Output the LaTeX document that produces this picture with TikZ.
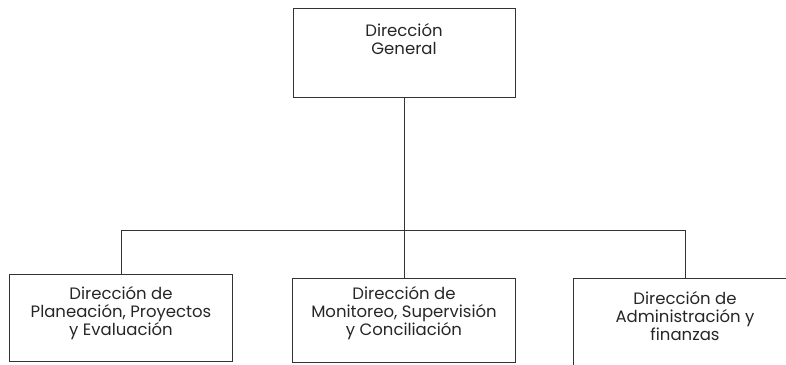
\documentclass[tikz,border=0pt]{standalone}
\usepackage{fontspec}
\setmainfont{Poppins}
\usetikzlibrary{calc}

\begin{document}
\begin{tikzpicture}[x=1pt, y=-1pt,
	every node/.style={font=\fontsize{16.5}{18}\selectfont, text=black!85},
	unidad/.style={draw=black!80, line width=0.7pt, align=center, anchor=north,
		minimum width=223pt, inner ysep=0pt, inner xsep=4pt}]
	% 786 x 364 px
	\useasboundingbox (0,0) rectangle (786,364);
	% direccion general
	\node (dg) [unidad, minimum width=222pt, text height=46pt, text depth=43pt] at (404,8)
		{Dirección\\General};
	% direcciones de area
	\node (dp) [unidad, text height=61pt, text depth=26pt] at (121,274)
		{Dirección de\\Planeación, Proyectos\\y Evaluación};
	\node (dm) [unidad, text height=57pt, text depth=27pt] at (404,278)
		{Dirección de\\Monitoreo, Supervisión\\y Conciliación};
	\node (da) [unidad, text height=62pt, text depth=27pt] at (685,278)
		{Dirección de\\Administración y\\finanzas};
	% lineas de mando
	\coordinate (bus) at (404,230);
	\draw[black!80, line width=0.6pt] (dg.south) -- (dg.south |- bus);
	\draw[black!80, line width=0.6pt] (dp.north) -- (dp.north |- bus) -- (da.north |- bus) -- (da.north);
	\draw[black!80, line width=0.6pt] (dm.north) -- (dm.north |- bus);
\end{tikzpicture}
\end{document}
